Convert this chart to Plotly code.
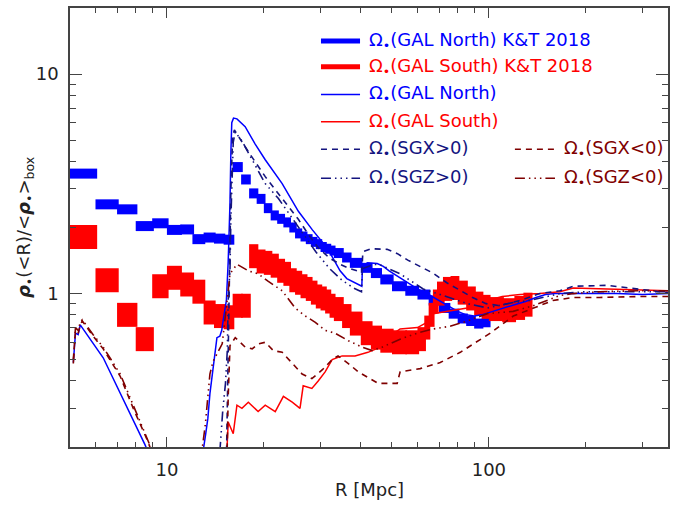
import math
import plotly.graph_objects as go

# ---------------- K&T 2018 binned profiles (bin edges in Mpc, one value per bin)
kt_north_edges = [5, 6, 7, 8, 9, 10, 11, 12, 13, 14, 15, 16, 17, 18, 19, 20, 21, 22, 23, 24,
                  25, 26, 27, 28, 29, 30, 31, 32, 33, 35, 37, 40, 43, 46, 50, 55, 60, 65, 70,
                  75, 80, 85, 90, 95, 100]
kt_north_vals = [3.52, 2.55, 2.42, 2.03, 2.09, 1.95, 1.96, 1.77, 1.80, 1.78, 1.76,
                 3.77, 3.31, 2.86, 2.70, 2.45, 2.27, 2.19, 2.11, 2.00, 1.88, 1.82, 1.77,
                 1.72, 1.68, 1.63, 1.60, 1.57, 1.53, 1.46, 1.38, 1.31, 1.24, 1.16, 1.08,
                 1.03, 0.99, 0.93, 0.86, 0.81, 0.77, 0.75, 0.73, 0.74]

kt_south_edges = [5, 6, 7, 8, 9, 10, 11, 12, 13, 14, 15, 16, 17, 18, 19, 20, 21, 22, 23, 24,
                  25, 26, 27, 28, 29, 30, 31, 32, 33, 35, 37, 40, 43, 46, 50, 55, 60, 63, 65,
                  67, 69, 72, 76, 80, 85, 90, 95, 100, 110, 120, 128, 135]
kt_south_vals = [1.81, 1.15, 0.80, 0.62, 1.08, 1.18, 1.10, 1.02, 0.82, 0.79, 0.78,
                 0.88, 0.88, 1.48, 1.40, 1.38, 1.34, 1.27, 1.23, 1.15, 1.12, 1.08, 1.05,
                 1.01, 0.97, 0.95, 0.92, 0.88, 0.85, 0.79, 0.73, 0.66, 0.63, 0.61, 0.60,
                 0.60, 0.62, 0.70, 0.80, 0.92, 1.00, 1.05, 1.06, 1.01, 0.95, 0.90, 0.87,
                 0.85, 0.84, 0.86, 0.89]

# ---------------- simulated cumulative density profiles
gal_north_r = [5.12, 5.2, 5.3, 5.38, 6.34, 8.56, 9.0, 12.8, 13.2, 13.4, 13.6, 13.9, 14.1,
               14.3, 14.6, 14.8, 14.9, 15.3, 15.5, 15.6, 15.7, 15.8, 15.9, 16.1, 16.5, 17.5,
               18.8, 20.2, 22.8, 25.6, 28.3, 31.5, 34.5, 36.2, 39.0, 40.3, 40.5, 42, 45, 47,
               49, 53, 57, 60, 65, 70, 75, 80, 85, 90, 95, 100, 110, 120, 130, 140, 150, 160,
               180, 200, 250, 300, 360]
gal_north_v = [0.485, 0.66, 0.65, 0.72, 0.51, 0.204, 0.17, 0.17, 0.23, 0.27, 0.35, 0.45,
               0.55, 0.63, 0.64, 0.68, 0.73, 0.93, 1.4, 1.86, 2.6, 4.4, 6.0, 6.3, 6.25, 5.76,
               4.8, 4.07, 3.17, 2.37, 1.95, 1.61, 1.27, 1.17, 1.11, 1.08, 1.34, 1.38, 1.37,
               1.33, 1.27, 1.18, 1.10, 1.05, 0.99, 0.93, 0.88, 0.83, 0.80, 0.79, 0.80, 0.82,
               0.86, 0.89, 0.92, 0.96, 0.99, 1.0, 1.0, 1.0, 1.0, 0.99, 1.0]

gal_south_r = [15.3, 15.5, 16.07, 16.5, 17.1, 17.9, 19.2, 20.2, 21.7, 23.0, 24.5, 25.9, 26.5,
               28.2, 29.5, 31.0, 32.6, 35.0, 38.4, 42.1, 46.0, 48.5, 53, 60, 64.4, 67.2, 74.4,
               85.7, 99, 110, 125, 144, 166, 183, 233, 294, 360]
gal_south_v = [0.17, 0.26, 0.23, 0.31, 0.30, 0.32, 0.29, 0.31, 0.29, 0.34, 0.32, 0.30, 0.38,
               0.37, 0.40, 0.44, 0.50, 0.52, 0.52, 0.54, 0.57, 0.63, 0.69, 0.70, 0.74, 0.81,
               0.83, 0.86, 0.93, 0.97, 0.99, 1.0, 1.02, 1.06, 1.05, 1.04, 1.03]

sgx_pos_r = [15.3, 15.5, 15.6, 15.8, 16.0, 16.2, 17.9, 20.2, 22.8, 25.6, 27.5, 29.5, 32, 34.5,
             36.5, 39, 40.3, 40.6, 43, 48.3, 52, 56, 61, 67, 74, 81, 89, 98, 108, 125, 144,
             166, 183, 233, 294, 360]
sgx_pos_v = [0.17, 0.5, 1.2, 3.0, 5.2, 5.56, 4.43, 3.41, 2.71, 2.18, 1.86, 1.62, 1.45, 1.36,
             1.31, 1.27, 1.25, 1.55, 1.60, 1.59, 1.52, 1.42, 1.33, 1.24, 1.12, 1.04, 0.96,
             0.90, 0.88, 0.93, 1.0, 1.03, 1.08, 1.09, 1.05, 1.01]

sgz_pos_r = [14.6, 14.9, 15.2, 15.4, 15.5, 15.7, 15.8, 16.07, 16.3, 17.15, 18.4, 20.2, 22.2,
             24.5, 26.3, 29, 32, 35, 38, 40.2, 40.5, 44, 46, 53, 62.5, 74.4, 85.7, 99, 119,
             134, 166, 200, 250, 300, 360]
sgz_pos_v = [0.19, 0.29, 0.39, 0.55, 0.93, 1.3, 2.2, 4.9, 5.45, 4.92, 4.07, 3.17, 2.71, 2.2,
             1.88, 1.55, 1.3, 1.15, 1.06, 1.02, 1.30, 1.36, 1.35, 1.23, 1.05, 0.96, 0.90,
             0.86, 0.91, 0.93, 1.0, 1.02, 1.02, 1.02, 1.02]

sgx_neg_r = [5.12, 5.2, 5.3, 5.38, 5.46, 5.9, 6.34, 7.16, 7.86, 8.69, 9.1, 15.2, 15.38, 15.5,
             15.7, 16.3, 16.7, 17.5, 18.4, 19.2, 20.2, 21.4, 22.8, 24.5, 26.3, 28.2, 30.4,
             32.6, 34.0, 36.6, 39.3, 42.1, 45.3, 50.1, 51.9, 53, 61.2, 70.6, 81.5, 89.5, 101,
             119, 137, 158, 183, 221, 294, 360]
sgx_neg_v = [0.50, 0.68, 0.66, 0.72, 0.75, 0.64, 0.56, 0.42, 0.30, 0.215, 0.18, 0.17, 0.19,
             0.34, 0.58, 0.63, 0.61, 0.57, 0.56, 0.59, 0.60, 0.55, 0.54, 0.48, 0.43, 0.41,
             0.45, 0.50, 0.52, 0.48, 0.44, 0.415, 0.39, 0.39, 0.39, 0.44, 0.455, 0.485, 0.54,
             0.59, 0.66, 0.79, 0.86, 0.93, 0.96, 0.96, 0.97, 0.97]

sgz_neg_r = [5.12, 5.2, 5.3, 5.38, 5.46, 5.9, 6.34, 7.16, 7.86, 8.69, 9.1, 12.7, 12.9, 13.15,
             13.6, 13.9, 14.85, 15.2, 15.5, 15.7, 16.3, 16.5, 17.9, 19.2, 20.6, 22.8, 25.0,
             26.9, 28.9, 31.0, 33.3, 36.6, 40.4, 43.4, 46.6, 51.2, 53, 59.8, 67.2, 75.7, 85.7,
             98.9, 119, 137, 166, 183, 221, 294, 360]
sgz_neg_v = [0.48, 0.70, 0.68, 0.74, 0.76, 0.65, 0.57, 0.43, 0.31, 0.22, 0.185, 0.17, 0.2,
             0.25, 0.43, 0.49, 0.59, 0.78, 1.03, 1.23, 1.33, 1.36, 1.27, 1.23, 1.14, 1.03,
             0.86, 0.79, 0.74, 0.68, 0.66, 0.61, 0.57, 0.55, 0.57, 0.61, 0.62, 0.66, 0.69,
             0.71, 0.75, 0.81, 0.83, 0.88, 0.98, 1.0, 1.02, 1.03, 1.03]

# ---------------- axis ticks
x_major = [10, 100]
x_major_text = ["10", "100"]
x_minor = [6, 7, 8, 9, 20, 30, 40, 50, 60, 70, 80, 90, 200, 300]
y_major = [1, 10]
y_major_text = ["1", "10"]
y_minor = [0.3, 0.4, 0.5, 0.6, 0.7, 0.8, 0.9, 2, 3, 4, 5, 6, 7, 8, 9]

BLUE = "#0000FF"
RED = "#FF0000"
NAVY = "#14147F"
MAROON = "#7F0000"
FONT = "DejaVu Sans"
DASH = "6px,5px"
DASH3DOT = "10px,4px,1.5px,4px,1.5px,4px,1.5px,4px"

# thick strokes get a small overlap so neighbouring bins join without hairline seams
SEAM = 1.012


def bin_segments(edges, vals):
    """One horizontal segment per bin, separated by gaps."""
    xs, ys = [], []
    for lo, hi, v in zip(edges[:-1], edges[1:], vals):
        xs += [lo, hi * SEAM, None]
        ys += [v, v, None]
    return xs, ys


fig = go.Figure()

nx, ny = bin_segments(kt_north_edges, kt_north_vals)
fig.add_trace(go.Scatter(x=nx, y=ny, mode="lines", line=dict(color=BLUE, width=10),
                         connectgaps=False, hoverinfo="skip"))
sx, sy = bin_segments(kt_south_edges, kt_south_vals)
fig.add_trace(go.Scatter(x=sx, y=sy, mode="lines", line=dict(color=RED, width=24),
                         connectgaps=False, hoverinfo="skip"))

curves = [
    (gal_north_r, gal_north_v, BLUE, "solid", 1.5),
    (gal_south_r, gal_south_v, RED, "solid", 1.5),
    (sgx_pos_r, sgx_pos_v, NAVY, DASH, 1.6),
    (sgz_pos_r, sgz_pos_v, NAVY, DASH3DOT, 1.6),
    (sgx_neg_r, sgx_neg_v, MAROON, DASH, 1.6),
    (sgz_neg_r, sgz_neg_v, MAROON, DASH3DOT, 1.6),
]
for r, v, col, dash, w in curves:
    fig.add_trace(go.Scatter(x=r, y=v, mode="lines",
                             line=dict(color=col, width=w, dash=dash)))

# ---------------- legend drawn inside the plot frame
OM = "Ω<sub>•</sub>"
legend_rows = [
    # (y, x0, x1, text x, label, colour, width, dash)
    (0.925, 0.4197, 0.485, 0.4967, OM + "(GAL North) K&T 2018", BLUE, 5, "solid"),
    (0.866, 0.4197, 0.485, 0.4967, OM + "(GAL South) K&T 2018", RED, 5, "solid"),
    (0.803, 0.4197, 0.485, 0.4967, OM + "(GAL North)", BLUE, 1.5, "solid"),
    (0.741, 0.4197, 0.485, 0.4967, OM + "(GAL South)", RED, 1.5, "solid"),
    (0.678, 0.4197, 0.485, 0.4967, OM + "(SGX&gt;0)", NAVY, 1.5, DASH),
    (0.612, 0.4197, 0.485, 0.4967, OM + "(SGZ&gt;0)", NAVY, 1.5, DASH3DOT),
    (0.678, 0.744, 0.811, 0.823, OM + "(SGX&lt;0)", MAROON, 1.5, DASH),
    (0.612, 0.744, 0.811, 0.823, OM + "(SGZ&lt;0)", MAROON, 1.5, DASH3DOT),
]
for yy, x0, x1, tx, label, col, w, dash in legend_rows:
    fig.add_shape(type="line", xref="paper", yref="paper", x0=x0, x1=x1, y0=yy, y1=yy,
                  line=dict(color=col, width=w, dash=dash))
    fig.add_annotation(xref="paper", yref="paper", x=tx, y=yy, xanchor="left",
                       yanchor="middle", text=label, showarrow=False,
                       font=dict(family=FONT, size=18, color=col))

# axis titles
fig.add_annotation(xref="paper", yref="paper", x=0.5, y=-0.0975, xanchor="center",
                   yanchor="middle", text="R [Mpc]", showarrow=False,
                   font=dict(family=FONT, size=18, color="#222"))
fig.add_annotation(xref="paper", yref="paper", x=-0.076, y=0.5, xanchor="center",
                   yanchor="middle", textangle=-90, showarrow=False,
                   text="<b><i>ρ</i></b><sub>•</sub>(&lt;R)/&lt;<b><i>ρ</i></b><sub>•</sub>&gt;<sub>box</sub>",
                   font=dict(family=FONT, size=18, color="#222"))

AX = "#444"
common = dict(type="log", ticks="inside", tickwidth=1, tickcolor=AX, showline=True,
              linecolor=AX, linewidth=1.5, mirror="ticks", showgrid=False, zeroline=False,
              tickfont=dict(family=FONT, size=18, color="#222"), ticklabelstandoff=6)

fig.update_layout(
    width=686, height=506,
    margin=dict(l=70, r=18, t=6, b=59),
    paper_bgcolor="white", plot_bgcolor="white",
    showlegend=False,
    xaxis=dict(range=[math.log10(5), math.log10(360)], tickmode="array",
               tickvals=x_major, ticktext=x_major_text, ticklen=10,
               minor=dict(tickmode="array", tickvals=x_minor, ticks="inside", ticklen=5,
                          tickcolor=AX, tickwidth=1, showgrid=False),
               **common),
    yaxis=dict(range=[math.log10(0.2), math.log10(20)], tickmode="array",
               tickvals=y_major, ticktext=y_major_text, ticklen=12,
               minor=dict(tickmode="array", tickvals=y_minor, ticks="inside", ticklen=6,
                          tickcolor=AX, tickwidth=1, showgrid=False),
               **common),
)

fig.write_html("out.html")
